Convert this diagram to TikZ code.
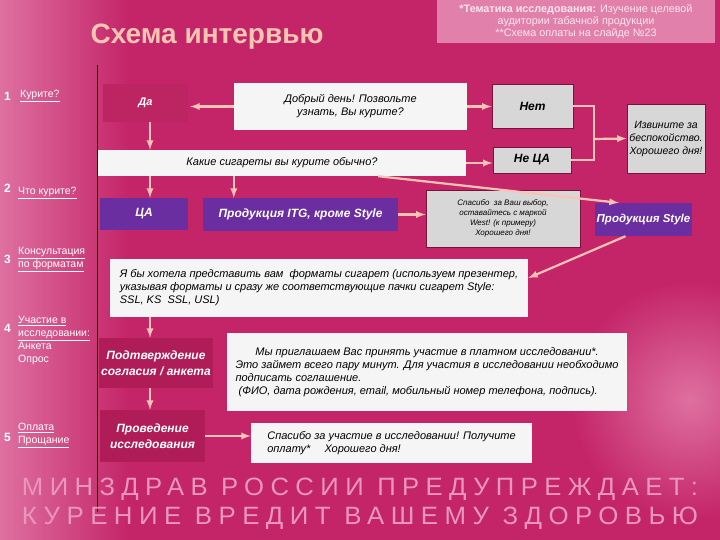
\documentclass[tikz,border=0pt]{standalone}
\usepackage{fontspec}
\setmainfont{Liberation Sans}
\usepackage{xcolor}
\definecolor{bgpink}{RGB}{196,36,104}
\definecolor{curtain}{RGB}{222,112,160}
\definecolor{boxwhite}{RGB}{245,245,245}
\definecolor{boxgray}{RGB}{215,215,215}
\definecolor{boxedge}{RGB}{120,20,60}
\definecolor{ispurple}{RGB}{106,46,160}
\definecolor{deeppink}{RGB}{176,28,88}
\definecolor{dapink}{RGB}{188,36,98}
\definecolor{arrowpeach}{RGB}{250,196,180}
\definecolor{titlepeach}{RGB}{246,198,178}
\definecolor{notepink}{RGB}{226,128,172}
\definecolor{notetext}{RGB}{252,230,238}
\definecolor{warntext}{RGB}{232,150,188}

\begin{document}
\begin{tikzpicture}[x=1pt,y=-1pt,
    txt/.style={font=\itshape\fontsize{11}{13}\selectfont,align=center,inner sep=2pt},
    whitebox/.style={txt,fill=boxwhite,text=black},
    graybox/.style={txt,fill=boxgray,draw=boxedge,line width=0.8pt,text=black},
    purplebox/.style={txt,fill=ispurple,text=white,font=\bfseries\itshape\fontsize{12}{14}\selectfont},
    pinkbox/.style={txt,fill=deeppink,text=white,font=\bfseries\itshape\fontsize{12}{16}\selectfont},
    arr/.style={-latex,line width=2.2pt,draw=arrowpeach},
    num/.style={text=white,font=\bfseries\fontsize{12}{12}\selectfont,anchor=west,inner sep=0pt},
    side/.style={text=white,font=\fontsize{10.5}{13}\selectfont,align=left,anchor=north west,inner sep=0pt}]
        % background
        \useasboundingbox (0,0) rectangle (720,540);
        \begin{scope}
            \clip (0,0) rectangle (720,540);
            \fill[bgpink] (0,0) rectangle (720,540);
            \shade[left color=curtain,right color=bgpink] (0,0) rectangle (130,540);
            \shade[inner color=curtain,outer color=bgpink] (690,400) circle (120);
        \end{scope}

        \node[font=\bfseries\fontsize{28}{28}\selectfont,text=titlepeach] (title) at (207,37) {Схема интервью};
        \node[fill=notepink,text=notetext,minimum width=278pt,minimum height=43pt,inner sep=1pt,
              align=center,font=\fontsize{10.8}{12}\selectfont] (note) at (576,21.5)
              {\textbf{*Тематика исследования:} Изучение целевой\\аудитории табачной продукции\\**Схема оплаты на слайде №23};

        \draw[black,line width=0.8pt] (97,65) -- (97,512);

        % steps on the left
        \node[num] (n1) at (4,96) {1};
        \node[side,anchor=west] (l1) at (20,96) {\underline{Курите?}};
        \node[num] (n2) at (4,188) {2};
        \node[side,anchor=west] (l2) at (18,193) {\underline{Что курите?}};
        \node[num] (n3) at (4,259) {3};
        \node[side] (l3) at (18,247) {\underline{Консультация}\\\underline{по форматам}};
        \node[num] (n4) at (4,328) {4};
        \node[side] (l4) at (18,316) {\underline{Участие в}\\\underline{исследовании:}\\Анкета\\Опрос};
        \node[num] (n5) at (4,437) {5};
        \node[side] (l5) at (18,423) {\underline{Оплата}\\\underline{Прощание}};

        \coordinate (spine) at (150,0);

        % boxes
        \node[pinkbox,fill=dapink,minimum width=85pt,minimum height=38pt,font=\bfseries\itshape\fontsize{11}{13}\selectfont] (yes) at (145.5,103) {Да};
        \node[whitebox,minimum width=233pt,minimum height=47pt] (hello) at (350.5,106.5) {Добрый день! Позвольте\\узнать, Вы курите?};
        \node[graybox,minimum width=81pt,minimum height=44pt,font=\bfseries\itshape\fontsize{12}{14}\selectfont] (no) at (532.5,106) {Нет};
        \node[graybox,minimum width=78pt,minimum height=69pt,inner sep=1pt,font=\itshape\fontsize{10.5}{13}\selectfont] (sorry) at (666,138.5) {Извините за\\беспокойство.\\Хорошего дня!};
        \node[graybox,minimum width=78pt,minimum height=26pt,font=\bfseries\itshape\fontsize{12}{14}\selectfont] (notca) at (532,160) {Не ЦА};
        \node[whitebox,minimum width=368pt,minimum height=26pt] (which) at (282,163) {Какие сигареты вы курите обычно?};
        \node[purplebox,minimum width=88pt,minimum height=32pt] (ca) at (144,214) {ЦА};
        \node[purplebox,minimum width=195pt,minimum height=33pt] (itg) at (300.5,214.5) {Продукция ITG, кроме Style};
        \node[graybox,minimum width=154pt,minimum height=57pt,font=\itshape\fontsize{8}{10}\selectfont] (thanksA) at (503,218.5)
              {Спасибо \ за Ваш выбор,\\оставайтесь с маркой\\West! (к примеру)\\Хорошего дня!};
        \node[purplebox,minimum width=97pt,minimum height=33pt,inner sep=1pt,font=\bfseries\itshape\fontsize{11.5}{14}\selectfont] (style) at (643.5,219.5) {Продукция Style};
        \node[whitebox,minimum width=418pt,minimum height=58pt,align=left] (present) at (319,288)
              {Я бы хотела представить вам \ форматы сигарет (используем презентер,\\
               указывая форматы и сразу же соответствующие пачки сигарет Style:\\
               SSL, KS \ SSL, USL)};
        \node[pinkbox,minimum width=112pt,minimum height=50pt] (confirm) at (156,363) {Подтверждение\\согласия / анкета};
        \node[whitebox,minimum width=400pt,minimum height=78pt,align=left] (invite) at (427,372)
              {\hspace*{1.8em}Мы приглашаем Вас принять участие в платном исследовании*.\\
               Это займет всего пару минут. Для участия в исследовании необходимо\\
               подписать соглашение.\\
               \ (ФИО, дата рождения, email, мобильный номер телефона, подпись).};
        \node[pinkbox,minimum width=105pt,minimum height=52pt] (conduct) at (152.5,436) {Проведение\\исследования};
        \node[whitebox,minimum width=281pt,minimum height=40pt,align=left] (thanksB) at (391.5,443)
              {Спасибо за участие в исследовании! Получите\\оплату* \quad Хорошего дня!};

        % connectors
        \coordinate (join) at (594,139);
        \draw[arr] (hello.west) -- ([xshift=2pt]hello.west -| yes.east);
        \draw[arr] (hello.east) -- (hello.east -| no.west);
        \draw[arr] (yes.south -| spine) -- (which.north -| spine);
        \draw[arr] (which.east) -- (which.east -| notca.west);
        \draw[arrowpeach,line width=2.2pt] (no.east) -| (join) |- (notca.east);
        \draw[arr] (join) -- (sorry.west);
        \draw[arr] (which.south -| spine) -- (ca.north -| spine);
        \draw[arr] ([xshift=31pt]itg.north west |- which.south) -- ([xshift=31pt]itg.north west);
        \draw[arr] ([xshift=-88pt]which.south east) -- ([xshift=24pt]style.north west);
        \draw[arr] (itg.east) -- (itg.east -| thanksA.west);
        \draw[arr] ([xshift=-18pt]style.south) -- ([yshift=10pt]present.east);
        \draw[arr] (present.south -| spine) -- (confirm.north -| spine);
        \draw[arr] (confirm.south -| spine) -- (conduct.north -| spine);
        \draw[arr] (conduct.east) -- (conduct.east -| thanksB.west);

        % warning
        \node[text=warntext,inner sep=0pt] (warnA) at (360,489.5)
              {\resizebox{676pt}{17.5pt}{\addfontfeature{LetterSpace=25}МИНЗДРАВ РОССИИ ПРЕДУПРЕЖДАЕТ:}};
        \node[text=warntext,inner sep=0pt] (warnB) at (360,518.5)
              {\resizebox{676pt}{17.5pt}{\addfontfeature{LetterSpace=25}КУРЕНИЕ ВРЕДИТ ВАШЕМУ ЗДОРОВЬЮ}};
\end{tikzpicture}
\end{document}
